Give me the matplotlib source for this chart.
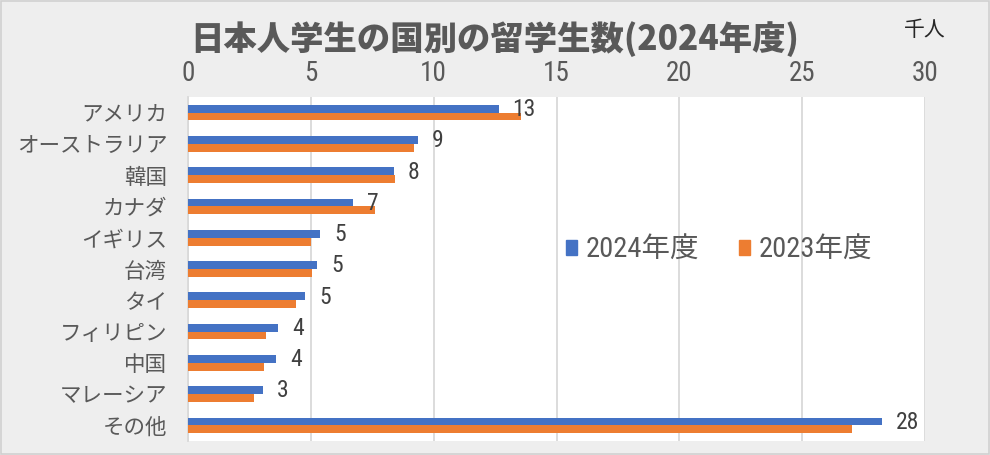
import matplotlib
matplotlib.use("Agg")
import matplotlib.pyplot as plt
from matplotlib.patches import Rectangle, Patch
import numpy as np

plt.rcParams['font.family'] = ['Noto Sans CJK JP', 'DejaVu Sans']

categories = ["アメリカ", "オーストラリア", "韓国", "カナダ", "イギリス", "台湾",
              "タイ", "フィリピン", "中国", "マレーシア", "その他"]
values_2024 = [12.64, 9.35, 8.37, 6.73, 5.39, 5.27, 4.78, 3.67, 3.59, 3.06, 28.24]
values_2023 = [13.55, 9.18, 8.41, 7.63, 5.02, 5.06, 4.41, 3.18, 3.10, 2.69, 27.02]
series_names = ["2024年度", "2023年度"]
xticks = [0, 5, 10, 15, 20, 25, 30]
title = "日本人学生の国別の留学生数(2024年度)"
unit = "千人"

blue = "#4472C4"
orange = "#ED7D31"
txt = "#595959"
num_font = ['Roboto Condensed', 'Liberation Sans Narrow', 'Roboto', 'DejaVu Sans']

fig = plt.figure(figsize=(9.9, 4.55), dpi=100)
fig.patch.set_facecolor("#EEEEEE")
fig.patches.append(Rectangle((0.001, 0.002), 0.998, 0.996, transform=fig.transFigure,
                             fill=False, edgecolor="#D0D0D0", linewidth=1.2))

ax = fig.add_axes([188/990, 1-441/455, (925-188)/990, (441-97)/455])
ax.set_facecolor("white")

y = np.arange(len(categories))
h = 0.25
ax.barh(y - h/2, values_2024, height=h, color=blue, label=series_names[0], zorder=3)
ax.barh(y + h/2, values_2023, height=h, color=orange, label=series_names[1], zorder=3)

for yi, v in zip(y, values_2024):
    ax.annotate(f"{v:.0f}", xy=(v, yi - 0.1), xytext=(10, 0), textcoords="offset points",
                ha="left", va="center", fontsize=17, color="#404040", family=num_font)

ax.set_xlim(0, 30)
ax.set_ylim(len(categories) - 0.5, -0.5)
ax.set_yticks(y)
ax.set_yticklabels(categories, fontsize=15.5, color=txt)
ax.set_xticks(xticks)
ax.set_xticklabels([str(t) for t in xticks], fontsize=19.5, color=txt, family=num_font)
ax.xaxis.tick_top()
ax.tick_params(axis="x", length=0, pad=7.5)
ax.tick_params(axis="y", length=0, pad=15)
ax.grid(axis="x", color="#D9D9D9", linewidth=1.3, zorder=0)
for s in ["top", "bottom", "right"]:
    ax.spines[s].set_visible(False)
ax.spines["left"].set_color("#D9D9D9")
ax.spines["left"].set_linewidth(1.3)

fig.text(495/990, 1-39/455, title, ha="center", va="center", fontsize=24,
         fontweight="heavy", color=txt)
fig.text(925/990, 1-30/455, unit, ha="center", va="center", fontsize=15, color="#262626")

handles = [Patch(color=blue), Patch(color=orange)]
fig.legend(handles, series_names, loc="center", bbox_to_anchor=(719/990, 1-250/455),
           ncol=2, frameon=False, handlelength=0.4, handleheight=0.4,
           handletextpad=0.3, columnspacing=1.4, labelcolor=txt,
           prop={'family': num_font + ['Noto Sans CJK JP'], 'size': 20.5})

fig.savefig("out.png", dpi=100, facecolor=fig.get_facecolor())
